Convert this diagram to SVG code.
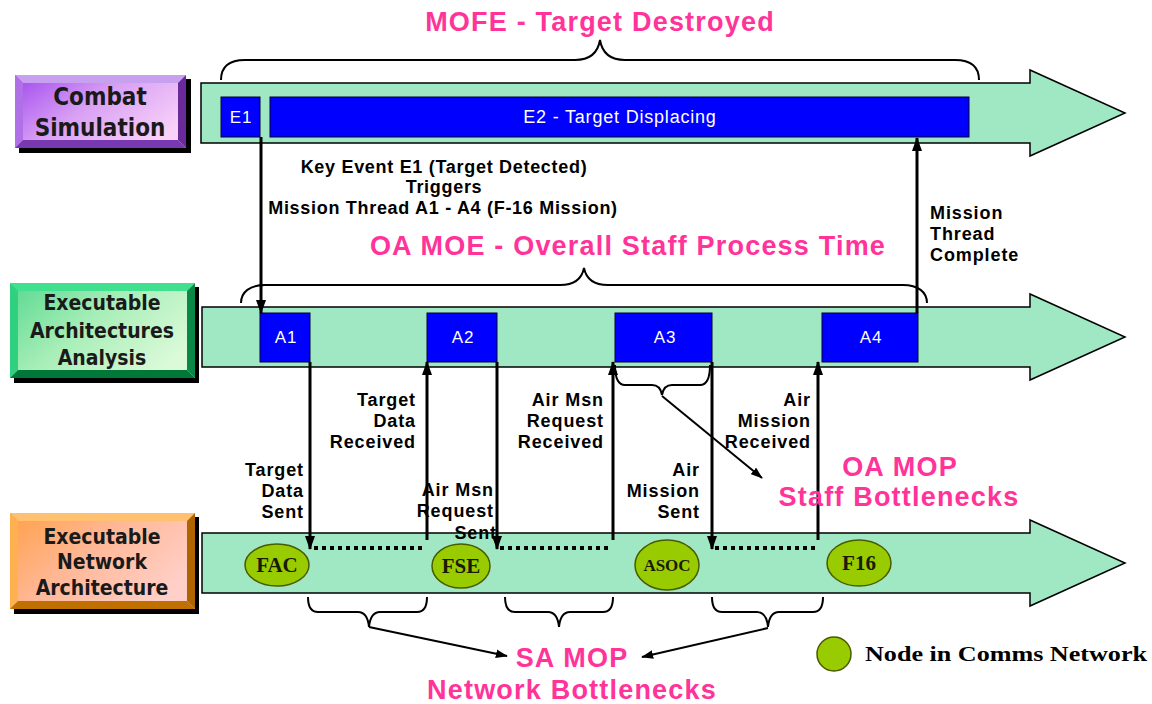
<svg xmlns="http://www.w3.org/2000/svg" width="1152" height="704" viewBox="0 0 1152 704">
<style>
.band{fill:#A0E8C4;stroke:#000;stroke-width:1.5}
.blue{fill:#0000FF;stroke:#000033;stroke-width:1}
.wt{font-family:"Liberation Sans",Arial,sans-serif;font-size:17px;letter-spacing:0.8px;fill:#fff;text-anchor:middle}
.lbl{font-family:"DejaVu Sans Condensed","DejaVu Sans",sans-serif;font-weight:bold;font-size:21px;fill:#1a1a1a;text-anchor:middle}
.bk{font-family:"Liberation Sans",Arial,sans-serif;font-weight:bold;font-size:18px;letter-spacing:0.9px;fill:#000}
.r{text-anchor:end}
.c{text-anchor:middle}
.pk{font-family:"Liberation Sans",Arial,sans-serif;font-weight:bold;font-size:27px;letter-spacing:1.2px;fill:#FF3399;text-anchor:middle}
.node{fill:#99CC00;stroke:#4A5A00;stroke-width:1.5}
.nt{font-family:"Liberation Serif","Times New Roman",serif;font-weight:bold;font-size:21px;fill:#1a1a00;text-anchor:middle}
.ln{stroke:#000;stroke-width:3;fill:none}
.thin{stroke:#000;stroke-width:2;fill:none}
.brace{stroke:#000;stroke-width:2;fill:none}
.dot{stroke:#000;stroke-width:4;stroke-dasharray:4 4;fill:none}
</style>
<defs>
<marker id="ah" viewBox="0 0 14 10" refX="13" refY="5" markerWidth="14" markerHeight="10" markerUnits="userSpaceOnUse" orient="auto">
<path d="M0,0 L14,5 L0,10 z" fill="#000"/>
</marker>
<marker id="ahs" viewBox="0 0 14 10" refX="13" refY="5" markerWidth="12" markerHeight="9" markerUnits="userSpaceOnUse" orient="auto">
<path d="M0,0 L14,5 L0,10 z" fill="#000"/>
</marker>
<linearGradient id="gp" x1="0" y1="0" x2="1" y2="0.6">
<stop offset="0" stop-color="#A048EE"/><stop offset="0.5" stop-color="#D8A0F4"/><stop offset="1" stop-color="#F8D0F8"/>
</linearGradient>
<linearGradient id="gg" x1="0" y1="0" x2="1" y2="0.6">
<stop offset="0" stop-color="#58D890"/><stop offset="0.5" stop-color="#A8EEB8"/><stop offset="1" stop-color="#DAFAD8"/>
</linearGradient>
<linearGradient id="go" x1="0" y1="0" x2="1" y2="0.6">
<stop offset="0" stop-color="#FFA048"/><stop offset="0.5" stop-color="#FFB898"/><stop offset="1" stop-color="#FFD0C8"/>
</linearGradient>
</defs>

<g id="braces-top">
<text class="pk" x="600" y="31">MOFE - Target Destroyed</text>
<path class="brace" d="M221,80 C221,66 230,60 245,60 L575,60 C590,60 598,52 600,40 C602,52 610,60 625,60 L955,60 C970,60 979,66 979,80"/>
</g>

<g id="combat-simulation">
<rect x="19" y="79" width="172" height="74" fill="#000"/>
<rect x="15" y="75" width="171" height="73" fill="url(#gp)"/>
<polygon points="15,75 186,75 178,83 23,83" fill="#C8A0F0"/>
<polygon points="15,75 23,83 23,140 15,148" fill="#B070E8"/>
<polygon points="186,75 186,148 178,140 178,83" fill="#6A2A9A"/>
<polygon points="15,148 186,148 178,140 23,140" fill="#7838B0"/>
<text class="lbl" x="100" y="105" style="font-size:24px">Combat</text>
<text class="lbl" x="100" y="136" style="font-size:24px">Simulation</text>
</g>

<g id="row1">
<polygon class="band" points="201,83 1030,83 1030,70 1125,113 1030,156 1030,143 201,143"/>
<g id="E1"><rect class="blue" x="221" y="97" width="39" height="40"/><text class="wt" x="241" y="123">E1</text></g>
<g id="E2"><rect class="blue" x="270" y="97" width="699" height="40"/><text class="wt" x="620" y="123" style="font-size:18px">E2 - Target Displacing</text></g>
</g>

<g id="key-event">
<text class="bk c" x="444" y="173" style="letter-spacing:0.7px">Key Event E1 (Target Detected)</text>
<text class="bk c" x="444" y="193" style="letter-spacing:0.7px">Triggers</text>
<text class="bk c" x="443" y="214" style="letter-spacing:0.7px">Mission Thread A1 - A4 (F-16 Mission)</text>
<text class="bk" x="930" y="219">Mission</text>
<text class="bk" x="930" y="240">Thread</text>
<text class="bk" x="930" y="261">Complete</text>
</g>

<g id="oa-moe">
<text class="pk" x="628" y="255">OA MOE - Overall Staff Process Time</text>
<path class="brace" d="M241,303 C241,292 250,285 265,285 L560,285 C575,285 582,278 584,268 C586,278 593,285 608,285 L903,285 C918,285 927,292 927,303"/>
</g>

<g id="executable-architectures-analysis">
<rect x="14" y="287" width="185" height="96" fill="#000"/>
<rect x="10" y="283" width="185" height="95" fill="url(#gg)"/>
<polygon points="10,283 195,283 187,291 18,291" fill="#40E090"/>
<polygon points="10,283 18,291 18,370 10,378" fill="#30D080"/>
<polygon points="195,283 195,378 187,370 187,291" fill="#0A8848"/>
<polygon points="10,378 195,378 187,370 18,370" fill="#007838"/>
<text class="lbl" x="102" y="310">Executable</text>
<text class="lbl" x="102" y="338">Architectures</text>
<text class="lbl" x="102" y="365">Analysis</text>
</g>

<g id="row2">
<polygon class="band" points="202,307 1030,307 1030,294 1125,337 1030,380 1030,367 202,367"/>
<g id="A1"><rect class="blue" x="260" y="313" width="50" height="49"/><text class="wt" x="286" y="343">A1</text></g>
<g id="A2"><rect class="blue" x="427" y="313" width="70" height="49"/><text class="wt" x="463" y="343">A2</text></g>
<g id="A3"><rect class="blue" x="615" y="313" width="97" height="49"/><text class="wt" x="665" y="343">A3</text></g>
<g id="A4"><rect class="blue" x="822" y="313" width="96" height="49"/><text class="wt" x="871" y="343">A4</text></g>
</g>

<g id="executable-network-architecture">
<rect x="14" y="517" width="185" height="97" fill="#000"/>
<rect x="10" y="513" width="185" height="96" fill="url(#go)"/>
<polygon points="10,513 195,513 187,521 18,521" fill="#FFC070"/>
<polygon points="10,513 18,521 18,601 10,609" fill="#FFB050"/>
<polygon points="195,513 195,609 187,601 187,521" fill="#B06400"/>
<polygon points="10,609 195,609 187,601 18,601" fill="#C07000"/>
<text class="lbl" x="102" y="544">Executable</text>
<text class="lbl" x="102" y="569">Network</text>
<text class="lbl" x="102" y="595">Architecture</text>
</g>

<g id="row3">
<polygon class="band" points="202,533 1030,533 1030,520 1125,563 1030,606 1030,593 202,593"/>
</g>

<g id="connectors">
<line class="ln" x1="261" y1="137" x2="261" y2="313" marker-end="url(#ah)"/>
<line class="ln" x1="917" y1="313" x2="917" y2="138" marker-end="url(#ah)"/>
<line class="ln" x1="310" y1="362" x2="310" y2="549" marker-end="url(#ah)"/>
<line class="ln" x1="427" y1="540" x2="427" y2="362" marker-end="url(#ah)"/>
<line class="ln" x1="497" y1="362" x2="497" y2="549" marker-end="url(#ah)"/>
<line class="ln" x1="613" y1="540" x2="613" y2="362" marker-end="url(#ah)"/>
<line class="ln" x1="712" y1="362" x2="712" y2="549" marker-end="url(#ah)"/>
<line class="ln" x1="818" y1="540" x2="818" y2="362" marker-end="url(#ah)"/>
<line class="dot" x1="314" y1="548" x2="424" y2="548"/>
<line class="dot" x1="500" y1="548" x2="612" y2="548"/>
<line class="dot" x1="715" y1="548" x2="817" y2="548"/>
<path class="brace" d="M615,365 C615,378 618,385 625,385 L652,385 C658,385 661,389 662,395 C663,389 666,385 672,385 L700,385 C707,385 710,378 710,365"/>
<line class="thin" x1="662" y1="396" x2="762" y2="478" marker-end="url(#ahs)"/>
<path class="brace" d="M308,597 C308,607 311,612 318,612 L358,612 C364,612 368,617 369,627 C370,617 374,612 380,612 L417,612 C424,612 427,607 427,597"/>
<path class="brace" d="M505,597 C505,607 508,612 515,612 L548,612 C554,612 558,617 559,627 C560,617 564,612 570,612 L603,612 C610,612 613,607 613,597"/>
<path class="brace" d="M712,597 C712,607 715,612 722,612 L757,612 C763,612 767,617 768,627 C769,617 773,612 779,612 L813,612 C820,612 823,607 823,597"/>
<line class="thin" x1="369" y1="627" x2="507" y2="656" marker-end="url(#ahs)"/>
<line class="thin" x1="768" y1="628" x2="642" y2="657" marker-end="url(#ahs)"/>
</g>

<g id="FAC"><ellipse class="node" cx="277" cy="565" rx="32" ry="21"/><text class="nt" x="277" y="572">FAC</text></g>
<g id="FSE"><ellipse class="node" cx="461" cy="566" rx="29" ry="22"/><text class="nt" x="461" y="573">FSE</text></g>
<g id="ASOC"><ellipse class="node" cx="667" cy="565" rx="32" ry="25"/><text class="nt" x="667" y="571" style="font-size:17px">ASOC</text></g>
<g id="F16"><ellipse class="node" cx="859" cy="563" rx="32" ry="23"/><text class="nt" x="859" y="570">F16</text></g>

<g id="labels">
<text class="bk r" x="304" y="476">Target</text>
<text class="bk r" x="304" y="497">Data</text>
<text class="bk r" x="304" y="518">Sent</text>
<text class="bk r" x="416" y="406">Target</text>
<text class="bk r" x="416" y="427">Data</text>
<text class="bk r" x="416" y="448">Received</text>
<text class="bk r" x="604" y="406">Air Msn</text>
<text class="bk r" x="604" y="427">Request</text>
<text class="bk r" x="604" y="448">Received</text>
<text class="bk r" x="494" y="496">Air Msn</text>
<text class="bk r" x="494" y="517">Request</text>
<text class="bk r" x="497" y="539">Sent</text>
<text class="bk r" x="700" y="476">Air</text>
<text class="bk r" x="700" y="497">Mission</text>
<text class="bk r" x="700" y="518">Sent</text>
<text class="bk r" x="811" y="406">Air</text>
<text class="bk r" x="811" y="427">Mission</text>
<text class="bk r" x="811" y="448">Received</text>
<text class="pk" x="900" y="476">OA MOP</text>
<text class="pk" x="899" y="506">Staff Bottlenecks</text>
<text class="pk" x="572" y="667">SA MOP</text>
<text class="pk" x="572" y="699">Network Bottlenecks</text>
</g>

<g id="legend">
<circle class="node" cx="834" cy="654" r="17"/>
<text x="865" y="661" style="font-family:'Liberation Serif','Times New Roman',serif;font-weight:bold;font-size:21px;fill:#000" textLength="282" lengthAdjust="spacingAndGlyphs">Node in Comms Network</text>
</g>
</svg>
